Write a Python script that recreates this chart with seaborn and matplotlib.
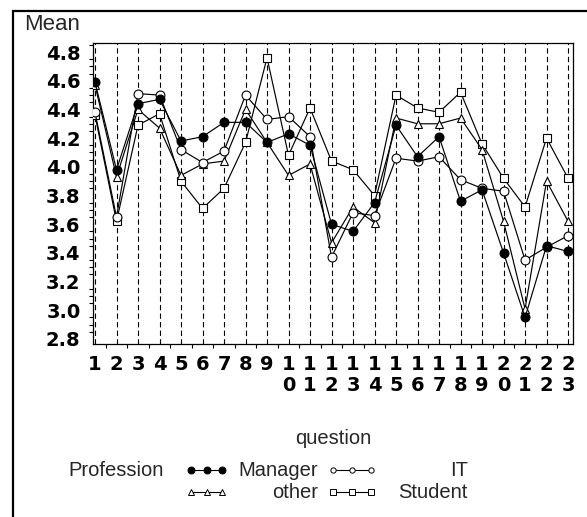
import numpy as np
import pandas as pd
import matplotlib
matplotlib.use("Agg")
import matplotlib.pyplot as plt
from matplotlib.lines import Line2D
from matplotlib.patches import Rectangle
from matplotlib.ticker import MultipleLocator, FixedLocator
import seaborn as sns

# Mean score per question, by profession
questions = list(range(1, 24))
manager = [4.59, 3.98, 4.44, 4.47, 4.18, 4.21, 4.31, 4.31, 4.17, 4.23, 4.15, 3.60,
           3.55, 3.75, 4.29, 4.07, 4.21, 3.76, 3.84, 3.40, 2.95, 3.45, 3.41]
it = [4.38, 3.65, 4.51, 4.50, 4.12, 4.03, 4.11, 4.50, 4.33, 4.35, 4.21, 3.37,
      3.68, 3.66, 4.06, 4.04, 4.07, 3.91, 3.85, 3.83, 3.35, 3.44, 3.52]
other = [4.57, 3.93, 4.40, 4.27, 3.94, 4.02, 4.04, 4.40, 4.17, 3.94, 4.02, 3.47,
         3.72, 3.61, 4.34, 4.30, 4.30, 4.34, 4.12, 3.62, 3.01, 3.90, 3.62]
student = [4.36, 3.62, 4.29, 4.37, 3.90, 3.71, 3.85, 4.17, 4.76, 4.08, 4.41, 4.04,
           3.98, 3.80, 4.50, 4.41, 4.38, 4.52, 4.16, 3.92, 3.72, 4.20, 3.92]
professions = ["Manager", "IT", "other", "Student"]
y_ticks = [2.8, 3.0, 3.2, 3.4, 3.6, 3.8, 4.0, 4.2, 4.4, 4.6, 4.8]
x_labels = [str(q) if q < 10 else f"{str(q)[0]}\n{str(q)[1]}" for q in questions]

df = pd.DataFrame({
    "question": questions * 4,
    "Mean": manager + it + other + student,
    "Profession": sum([[p] * len(questions) for p in professions], []),
})

styles = {
    "Manager": dict(marker="o", markersize=6.4, markerfacecolor="black"),
    "IT": dict(marker="o", markersize=6.4, markerfacecolor="white"),
    "other": dict(marker="^", markersize=6.0, markerfacecolor="white"),
    "Student": dict(marker="s", markersize=5.6, markerfacecolor="white"),
}

sns.set_theme(style="white")
plt.rcParams["font.family"] = ["Liberation Sans", "DejaVu Sans"]

W, H = 587, 517
fig = plt.figure(figsize=(W / 100, H / 100), dpi=100)
ax = fig.add_axes([93 / W, 1 - 344 / H, (573 - 93) / W, (344 - 43) / H])

def fx(px):
    return px / W

def fy(py):
    return 1 - py / H

# dashed reference line at every question
for q in questions:
    ax.axvline(q, color="black", lw=0.8, dashes=(4.8, 2.9), zorder=1)

order_draw = ["Student", "other", "IT", "Manager"]
for p in order_draw:
    sub = df[df["Profession"] == p]
    sns.lineplot(data=sub, x="question", y="Mean", ax=ax, color="black",
                 linewidth=0.85, markeredgecolor="black", markeredgewidth=0.8,
                 legend=False, zorder=3, **styles[p])

tick_font = dict(family="DejaVu Sans", weight="bold", size=14)
ax.set_xlim(0.907, 23.23)
ax.set_ylim(2.765, 4.863)
ax.yaxis.set_major_locator(FixedLocator(y_ticks))
ax.yaxis.set_minor_locator(MultipleLocator(0.05))
ax.set_yticklabels([f"{v:.1f}" for v in y_ticks], fontdict=tick_font)
ax.xaxis.set_major_locator(FixedLocator(questions))
ax.xaxis.set_minor_locator(FixedLocator([q + 0.5 for q in questions[:-1]]))
ax.set_xticklabels(x_labels, fontdict=tick_font, va="top")
for lbl in ax.get_xticklabels():
    lbl.set_linespacing(1.12)
ax.tick_params(axis="both", which="major", direction="out", length=5, width=0.8,
               color="black", pad=4, labelcolor="black")
ax.tick_params(axis="both", which="minor", direction="out", length=3, width=0.8,
               color="black")
ax.tick_params(axis="x", which="major", length=6, pad=2)
ax.tick_params(axis="y", which="minor", left=True)
ax.tick_params(axis="x", which="minor", bottom=True)
ax.set_xlabel("")
ax.set_ylabel("")
for s in ax.spines.values():
    s.set_visible(True)
    s.set_color("black")
    s.set_linewidth(0.9)
ax.grid(False)

# axis titles
fig.text(fx(24), fy(30), "Mean", fontsize=16, ha="left", va="baseline")
fig.text(fx(333), fy(438), "question", fontsize=14.5, ha="center", va="center")

# legend
row1, row2 = 470, 492
leg_fs = 14.5
fig.text(fx(68), fy(row1), "Profession", fontsize=leg_fs, ha="left", va="center")

def sample(x0, x1, y, p, big):
    xs = np.linspace(fx(x0), fx(x1), 3)
    st = dict(styles[p])
    st["markersize"] = 5.0 if big else 3.8
    fig.add_artist(Line2D(xs, [fy(y)] * 3, transform=fig.transFigure,
                          color="black", lw=0.8, markeredgecolor="black",
                          markeredgewidth=0.7, **st))

sample(191, 222, row1, "Manager", True)
fig.text(fx(318), fy(row1), "Manager", fontsize=leg_fs, ha="right", va="center")
sample(333, 371, row1, "IT", False)
fig.text(fx(468), fy(row1), "IT", fontsize=leg_fs, ha="right", va="center")
sample(191, 222, row2, "other", False)
fig.text(fx(318), fy(row2), "other", fontsize=leg_fs, ha="right", va="center")
sample(333, 371, row2, "Student", False)
fig.text(fx(468), fy(row2), "Student", fontsize=leg_fs, ha="right", va="center")

# outer frame
fig.add_artist(Rectangle((fx(13), fy(560)), fx(620), 549 / H, transform=fig.transFigure,
                         fill=False, edgecolor="black", lw=1.6, clip_on=False))

fig.savefig("out.png", dpi=100)
